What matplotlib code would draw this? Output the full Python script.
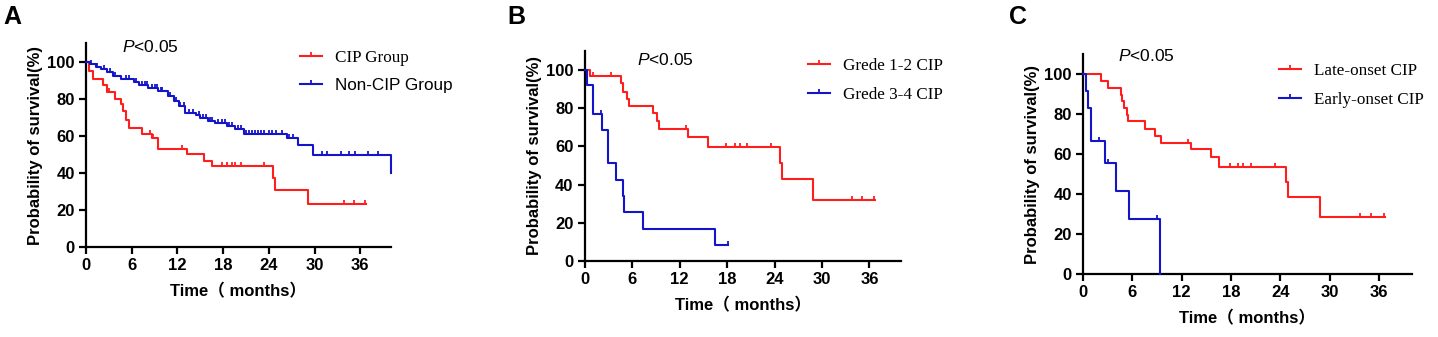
import numpy as np
import matplotlib
matplotlib.use('Agg')
import matplotlib.pyplot as plt
from matplotlib.lines import Line2D
from matplotlib.path import Path

plt.rcParams['font.family'] = ['Liberation Sans', 'Noto Sans CJK SC', 'DejaVu Sans']
plt.rcParams['mathtext.fontset'] = 'custom'
plt.rcParams['mathtext.it'] = 'Liberation Sans:italic'
plt.rcParams['mathtext.rm'] = 'Liberation Sans'

# ---- Panel A: CIP vs Non-CIP ----
a_cip_t = [0, 0.4, 0.9, 2.2, 2.8, 3.8, 4.6, 4.9, 5.2, 5.6, 7.3, 8.6, 9.4, 13.2, 15.5, 16.5, 24.6, 24.8, 29.1, 36.8]
a_cip_s = [100, 95, 90.9, 87.3, 83.6, 80, 77, 73.3, 68.8, 64.3, 61.1, 59.0, 52.9, 50.4, 46.7, 43.5, 37.5, 31.0, 23.3, 23.3]
a_cip_c = [3.0, 8.4, 8.8, 12.6, 17.9, 18.5, 19.2, 19.6, 20.3, 23.4, 33.9, 35.2, 36.6]

a_non_t = [0, 0.5, 1.3, 2.0, 2.8, 3.5, 4.6, 6.3, 7.0, 8.2, 9.5, 10.7, 11.5, 12.2, 13.0, 14.5, 15.0,
           16.0, 17.0, 18.5, 19.5, 20.7, 26.4, 27.8, 29.8, 40.0]
a_non_s = [100, 98.6, 97.3, 96.0, 94.5, 92.5, 90.5, 89.3, 87.6, 85.8, 84.2, 81.3, 78.6, 76.0, 72.3, 71.4, 69.6,
           68.2, 66.8, 65.2, 63.6, 61.2, 58.6, 55.2, 49.5, 40]
a_non_c = [0.7, 1.5, 2.4, 3.2, 3.8, 5.3, 5.6, 6.6, 7.4, 7.8, 8.0, 8.6, 9.0, 9.3, 9.8, 10.0, 11.0, 11.8,
           12.4, 12.8, 13.5, 14.0, 14.8, 15.4, 15.7, 16.3, 16.6, 17.3, 17.8, 18.2, 18.8, 19.2, 19.9,
           20.4, 21.0, 21.4, 21.8, 22.2, 22.6, 23.0, 23.4, 24.0, 24.4, 25.0, 25.7, 26.7, 27.2, 31.0,
           31.7, 33.5, 34.5, 35.3, 37.0, 38.3]

# ---- Panel B: grade ----
b_g12_t = [0, 0.67, 4.6, 4.9, 5.3, 5.6, 8.7, 9.1, 9.4, 13.0, 15.6, 24.7, 24.9, 28.9, 36.7]
b_g12_s = [100, 96.9, 93.0, 88.6, 84.6, 81.1, 77.6, 73.3, 68.9, 64.8, 59.6, 51.3, 42.9, 32.0, 32.0]
b_g12_c = [1.0, 3.3, 12.8, 17.9, 19.0, 19.7, 20.5, 23.6, 33.8, 35.1, 36.6]

b_g34_t = [0, 0.3, 1.1, 2.2, 2.9, 4.0, 4.8, 5.0, 7.4, 16.5, 18.1]
b_g34_s = [100, 92.3, 76.9, 68.4, 51.3, 42.7, 34.2, 25.6, 17.1, 8.5, 8.5]
b_g34_c = [2.0, 18.1]

# ---- Panel C: onset ----
c_late_t = [0, 2.2, 3.1, 4.6, 4.8, 5.0, 5.3, 5.5, 7.6, 8.8, 9.5, 13.2, 15.6, 16.5, 24.7, 24.9, 28.9, 36.7]
c_late_s = [100, 96.5, 93.0, 89.7, 86.4, 83.0, 79.7, 76.4, 72.5, 69.2, 65.5, 62.6, 58.8, 53.7, 46.0, 38.6, 28.6, 28.6]
c_late_c = [12.8, 17.9, 18.9, 19.5, 20.4, 23.4, 33.7, 35.1, 36.6]

c_early_t = [0, 0.37, 0.65, 1.0, 2.7, 4.0, 5.6, 9.4]
c_early_s = [100, 91.7, 83.3, 66.7, 55.6, 41.7, 27.8, 0]
c_early_c = [1.95, 3.1, 9.0]

RED = '#FF1E1E'
BLUE = '#1414C8'
TICK = Path([(0, 0), (0, 1)])  # upward censor tick

fig = plt.figure(figsize=(14.38, 3.37), dpi=100)


def surv_at(t, times, surv):
    i = np.searchsorted(times, t, side='right') - 1
    return surv[i]


def km(ax, t, s, cens, color):
    ax.step(t, s, where='post', color=color, lw=1.5, clip_on=False, zorder=3)
    cy = [surv_at(c, t, s) for c in cens]
    ax.plot(cens, cy, ls='none', marker=TICK, ms=6, mew=1.3, color=color, clip_on=False, zorder=3)


def style(ax):
    ax.set_xlim(0, 40)
    ax.set_ylim(0, 110)
    ax.set_xticks(range(0, 37, 6))
    ax.set_yticks(range(0, 101, 20))
    for sp in ['top', 'right']:
        ax.spines[sp].set_visible(False)
    for sp in ['left', 'bottom']:
        ax.spines[sp].set_linewidth(1.6)
    ax.tick_params(length=5, width=1.6, labelsize=12, pad=3)
    for lab in ax.get_xticklabels() + ax.get_yticklabels():
        lab.set_fontweight('bold')
    ax.set_xlabel('Time（ months）', fontsize=12, fontweight='bold', labelpad=7)
    ax.set_ylabel('Probability of survival(%)', fontsize=12, fontweight='bold', labelpad=3)


panels = [
    dict(pos=[0.0598, 0.267, 0.2119, 0.6045], letter='A', lx=0.002,
         curves=[(a_cip_t, a_cip_s, a_cip_c, RED), (a_non_t, a_non_s, a_non_c, BLUE)],
         labels=['CIP Group', 'Non-CIP Group'], fams=['Liberation Serif', 'Liberation Sans'],
         p=(4.7, 108), leg=(0.2086, 0.853), sp=0.72),
    dict(pos=[0.4066, 0.2246, 0.2200, 0.625], letter='B', lx=0.353,
         curves=[(b_g12_t, b_g12_s, b_g12_c, RED), (b_g34_t, b_g34_s, b_g34_c, BLUE)],
         labels=['Grede 1-2 CIP', 'Grede 3-4 CIP'], fams=['Liberation Serif', 'Liberation Serif'],
         p=(6.6, 105), leg=(0.5619, 0.829), sp=0.79),
    dict(pos=[0.7531, 0.186, 0.2286, 0.6529], letter='C', lx=0.702,
         curves=[(c_late_t, c_late_s, c_late_c, RED), (c_early_t, c_early_s, c_early_c, BLUE)],
         labels=['Late-onset CIP', 'Early-onset CIP'], fams=['Liberation Serif', 'Liberation Serif'],
         p=(4.3, 109), leg=(0.8894, 0.813), sp=0.76),
]

for pn in panels:
    ax = fig.add_axes(pn['pos'])
    for t, s, c, col in pn['curves']:
        km(ax, t, s, c, col)
    style(ax)
    ax.text(pn['p'][0], pn['p'][1], r'$\mathit{P}$<0.05', fontsize=12.5, va='center', ha='left')
    handles = [Line2D([], [], color=col, lw=1.5, marker=TICK, ms=6, mew=1.3)
               for _, _, _, col in pn['curves']]
    leg = ax.legend(handles, pn['labels'], loc='upper left', bbox_to_anchor=pn['leg'],
                    bbox_transform=fig.transFigure, frameon=False, fontsize=12.3,
                    handlelength=1.3, handletextpad=0.75, labelspacing=pn['sp'],
                    borderpad=0, borderaxespad=0)
    for txt, fam in zip(leg.get_texts(), pn['fams']):
        txt.set_fontfamily(fam)
    fig.text(pn['lx'], 0.985, pn['letter'], fontsize=18, fontweight='bold', va='top', ha='left')

fig.savefig('out.png', dpi=100)
